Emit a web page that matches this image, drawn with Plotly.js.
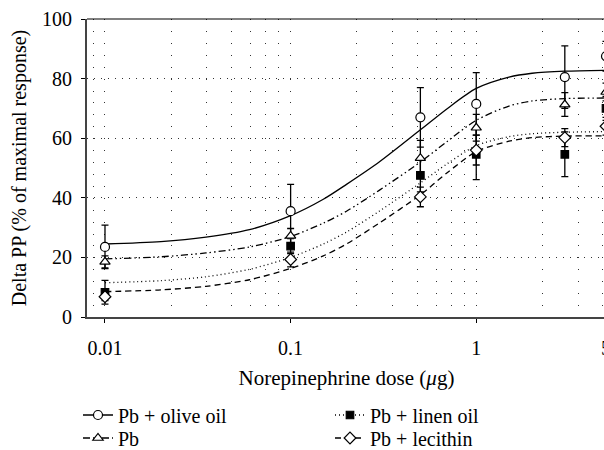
<!DOCTYPE html>
<html>
<head>
<meta charset="utf-8">
<script src="https://cdn.plot.ly/plotly-3.0.1.min.js"></script>
<style>
html, body { margin: 0; padding: 0; overflow: hidden; background: #fff; }
#chart { width: 612px; height: 450px; }
</style>
</head>
<body>
<div id="chart"></div>
<script>
// ---- data ----
const doses = [0.01, 0.1, 0.5, 1, 3, 5];
const oliveMean = [23.5, 35.5, 67, 71.5, 80.5, 87.5];
const oliveErr = [7.3, 9, 10, 10.5, 10.5, 5];
const pbMean = [18.5, 27.2, 53.3, 63.5, 71.3, 75.5];
const pbErr = [2, 2.5, 6, 4.5, 4, 3];
const linenMean = [8.3, 23.8, 47.5, 54.6, 54.6, 70];
const linenErr = [4, 2.5, 5.5, 8.5, 7.5, 4];
const lecithinMean = [6.8, 19.3, 40.3, 56, 60.2, 64];
const lecithinErr = [1.3, 2.5, 3.3, 5, 3, 3];

const curveDoses = [0.01, 0.02, 0.035, 0.06, 0.1, 0.15, 0.2, 0.3, 0.5, 0.7, 1, 1.5, 2, 3, 5];
const oliveFit = [24.5, 25.3, 26.8, 29.3, 34, 39.5, 44.5, 52, 62.8, 70, 76.7, 80.5, 81.8, 82.5, 82.8];
const pbFit = [19.5, 20.2, 21.5, 23.5, 27, 31.5, 35.5, 42.5, 52, 59, 66, 70.8, 72.5, 73.3, 73.5];
const linenFit = [11.5, 12.2, 13.5, 16, 20, 24.5, 28.5, 35.5, 45, 51.5, 57.5, 60.5, 61.5, 62, 62.2];
const lecithinFit = [8.5, 9.1, 10.3, 12.5, 16.3, 20.5, 24.5, 31.5, 41, 48.5, 55.5, 59, 60.2, 60.7, 60.8];

const seriesNames = ['Pb + olive oil', 'Pb + linen oil', 'Pb', 'Pb + lecithin'];
const legendRow = {'Pb + olive oil': 'legend', 'Pb + linen oil': 'legend', 'Pb': 'legend2', 'Pb + lecithin': 'legend2'};
const xTickVals = [0.01, 0.1, 1, 5];
const xTickText = ['0.01', '0.1', '1', '5'];
const yTickVals = [0, 20, 40, 60, 80, 100];

// ---- styles ----
const FONT = '"Liberation Serif", "Times New Roman", serif';
const styles = {
  'Pb + olive oil': {dash: 'solid', symbol: 'circle', fill: '#ffffff', size: 9},
  'Pb + linen oil': {dash: '1px,3px', symbol: 'square', fill: '#000000', size: 7.5},
  'Pb': {dash: '7px,3px,1.5px,3px,1.5px,3px', symbol: 'triangle-up', fill: '#ffffff', size: 9},
  'Pb + lecithin': {dash: '6px,4px', symbol: 'diamond', fill: '#ffffff', size: 9}
};
const pointData = {
  'Pb + olive oil': [oliveMean, oliveErr, oliveFit],
  'Pb + linen oil': [linenMean, linenErr, linenFit],
  'Pb': [pbMean, pbErr, pbFit],
  'Pb + lecithin': [lecithinMean, lecithinErr, lecithinFit]
};

// minor grid positions (linear steps inside each decade, as in the original)
const gridVals = [];
[0.001, 0.01, 0.1, 1].forEach(d => {
  for (let k = 0; k < 7; k++) gridVals.push(+(d * (1 + 1.27 * k)).toPrecision(4));
});

const traces = [];
seriesNames.forEach(n => {
  traces.push({
    x: curveDoses, y: pointData[n][2], type: 'scatter', mode: 'lines',
    line: {color: '#000', width: 1.3, dash: styles[n].dash, shape: 'spline', smoothing: 0.8},
    showlegend: false, hoverinfo: 'skip', cliponaxis: true
  });
});
seriesNames.forEach(n => {
  const s = styles[n];
  traces.push({
    x: doses, y: pointData[n][0], type: 'scatter', mode: 'markers',
    error_y: {type: 'data', array: pointData[n][1], visible: true, color: '#000', thickness: 1.3, width: 3.5},
    marker: {symbol: s.symbol, size: s.size, color: s.fill, line: {color: '#000', width: 1.2}},
    showlegend: false, cliponaxis: false
  });
});
seriesNames.forEach(n => {
  const s = styles[n];
  traces.push({
    x: [null], y: [null], type: 'scatter', mode: 'lines+markers', name: n, legend: legendRow[n],
    line: {color: '#000', width: 1.3, dash: s.dash},
    marker: {symbol: s.symbol, size: s.size, color: s.fill, line: {color: '#000', width: 1.2}}
  });
});

const legendBase = {
  orientation: 'h', xref: 'container', yref: 'container',
  x: 78 / 612, xanchor: 'left', yanchor: 'top',
  entrywidth: 207, entrywidthmode: 'pixels', traceorder: 'normal',
  font: {family: FONT, size: 20, color: '#000'}, bgcolor: 'rgba(0,0,0,0)', borderwidth: 0
};

const layout = {
  width: 612, height: 450,
  margin: {l: 87, r: 6, t: 19, b: 133},
  paper_bgcolor: '#fff', plot_bgcolor: '#fff',
  font: {family: FONT, size: 20, color: '#000'},
  showlegend: true,
  xaxis: {
    type: 'log', range: [Math.log10(0.008), Math.log10(5)], automargin: false,
    tickmode: 'array', tickvals: xTickVals, ticktext: xTickText,
    ticks: 'outside', ticklen: 4, tickwidth: 1, tickcolor: '#000',
    ticklabelstandoff: 8,
    showline: true, linecolor: '#444', linewidth: 2, zeroline: false,
    showgrid: true, gridcolor: '#333', gridwidth: 1, griddash: '1px,10.92px',
    minor: {tickmode: 'array', tickvals: gridVals, showgrid: true, gridcolor: '#333', gridwidth: 1, griddash: '1px,10.92px', ticks: ''},
    title: {text: 'Norepinephrine dose (<i>μ</i>g)', font: {family: FONT, size: 21}, standoff: 12}
  },
  yaxis: {
    range: [0, 100], automargin: false,
    tickmode: 'array', tickvals: yTickVals,
    ticks: 'outside', ticklen: 4, tickwidth: 1, tickcolor: '#000',
    ticklabelstandoff: 5,
    showline: true, linecolor: '#444', linewidth: 2, zeroline: false,
    showgrid: true, gridcolor: '#333', gridwidth: 1, griddash: '1px,6px',
    title: {text: 'Delta PP (% of maximal response)', font: {family: FONT, size: 20}, standoff: 10}
  },
  shapes: [{type: 'line', xref: 'paper', yref: 'paper', x0: 0, x1: 1, y0: 1, y1: 1, line: {color: '#000', width: 1.2}}],
  legend: Object.assign({}, legendBase, {y: 1 - 395.5 / 450}),
  legend2: Object.assign({}, legendBase, {y: 1 - 418.5 / 450})
};

Plotly.newPlot('chart', traces, layout, {staticPlot: true, displayModeBar: false});
</script>
</body>
</html>
